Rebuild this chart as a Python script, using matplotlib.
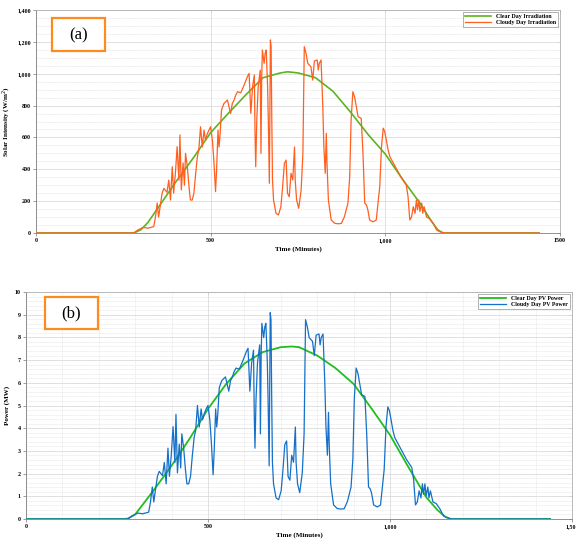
import matplotlib
matplotlib.use("Agg")
import matplotlib.pyplot as plt
from matplotlib.patches import Rectangle
from matplotlib.ticker import MultipleLocator, FixedLocator, FixedFormatter, NullFormatter

plt.rcParams['font.family'] = ['Liberation Serif', 'DejaVu Serif']

# ---------------- data ----------------
clear_t = [0, 270, 280, 300, 320, 350, 400, 450, 500, 550, 600, 650, 700, 720, 750,
           800, 850, 900, 950, 1000, 1050, 1100, 1130, 1150, 1165, 1440]
clear_irr = [0, 0, 0, 20, 65, 160, 320, 470, 630, 750, 866, 975, 1005, 1012, 1005,
             975, 890, 760, 620, 495, 335, 185, 80, 20, 0, 0]

clear_pt = [0, 270, 280, 300, 350, 400, 450, 500, 550, 600, 650, 700, 730, 750,
            800, 850, 900, 950, 1000, 1050, 1100, 1130, 1150, 1165, 1440]
clear_pow = [0, 0, 0.02, 0.2, 1.25, 2.35, 3.55, 4.85, 5.95, 6.85, 7.35, 7.57, 7.6, 7.57,
             7.2, 6.65, 5.95, 4.85, 3.7, 2.3, 0.95, 0.4, 0.12, 0, 0]

cloudy_t = [0, 280, 289, 300, 308, 320, 337, 342, 347, 351, 361, 366, 375, 380, 385,
            390, 394, 399, 404, 409, 412, 416, 421, 425, 428, 433, 438, 442, 447, 452,
            457, 462, 466, 471, 476, 481, 485, 490, 495, 500, 505, 509, 514, 517, 521,
            524, 527, 531, 538, 548, 557, 562, 567, 572, 577, 586, 596, 605, 610, 615,
            620, 625, 627, 629, 632, 636, 642, 644, 646, 648, 653, 656, 659, 663, 665,
            668, 671, 673, 675, 677, 680, 687, 694, 701, 706, 711, 716, 720, 725, 730,
            735, 740, 742, 746, 752, 759, 764, 768, 773, 778, 787, 792, 797, 805, 808,
            811, 816, 821, 824, 828, 831, 833, 837, 845, 855, 864, 874, 883, 893, 898,
            902, 907, 912, 917, 922, 931, 936, 941, 946, 950, 955, 965, 974, 984, 989,
            994, 998, 1003, 1008, 1013, 1030, 1045, 1060, 1065, 1070, 1075, 1080, 1085,
            1089, 1092, 1096, 1099, 1104, 1107, 1111, 1118, 1127, 1137, 1147, 1156, 1171,
            1440]
cloudy_irr = [0, 0, 15, 28, 35, 30, 40, 100, 188, 100, 250, 280, 255, 332, 207,
              416, 250, 373, 542, 332, 615, 270, 440, 300, 500, 420, 290, 207, 207, 250,
              373, 480, 520, 667, 540, 646, 582, 620, 646, 667, 582, 457, 260, 400, 646,
              540, 620, 772, 813, 835, 750, 813, 835, 866, 887, 880, 930, 981, 1002, 751,
              918, 992, 626, 416, 709, 918, 1023, 500, 960, 1149, 1065, 1128, 1149, 918, 709,
              312, 1212, 1170, 709, 333, 207, 124, 113, 165, 291, 437, 458, 249, 228, 375,
              333, 540, 333, 207, 155, 270, 500, 1170, 1128, 1065, 1044, 960, 1080, 1086, 1023,
              1065, 1086, 793, 542, 375, 626, 437, 207, 82, 61, 58, 60, 103, 188, 355,
              709, 887, 855, 793, 730, 720, 500, 188, 176, 145, 82, 70, 82, 291, 542,
              658, 638, 582, 520, 479, 410, 350, 301, 228, 82, 100, 165, 124,
              207, 145, 207, 135, 188, 124, 165, 100, 90, 60, 19, 8, 0,
              0]
cloudy_pow = [0, 0, 0.11, 0.21, 0.26, 0.23, 0.3, 0.75, 1.41, 0.75, 1.88, 2.1, 1.91, 2.49, 1.55,
              3.12, 1.88, 2.8, 4.07, 2.49, 4.61, 2.03, 3.3, 2.25, 3.75, 3.15, 2.18, 1.55, 1.55, 1.88,
              2.8, 3.6, 3.9, 5.0, 4.05, 4.85, 4.37, 4.65, 4.85, 5.0, 4.37, 3.43, 1.95, 3.0, 4.85,
              4.05, 4.65, 5.79, 6.1, 6.26, 5.63, 6.1, 6.26, 6.5, 6.65, 6.6, 6.98, 7.36, 7.52, 5.63,
              6.89, 7.44, 4.7, 3.12, 5.32, 6.89, 7.67, 3.75, 7.2, 8.62, 7.99, 8.46, 8.62, 6.89, 5.32,
              2.34, 9.09, 8.78, 5.32, 2.5, 1.55, 0.93, 0.85, 1.24, 2.18, 3.28, 3.44, 1.87, 1.71, 2.81,
              2.5, 4.05, 2.5, 1.55, 1.16, 2.03, 3.75, 8.78, 8.46, 7.99, 7.83, 7.2, 8.1, 8.15, 7.67,
              7.99, 8.15, 5.95, 4.07, 2.81, 4.7, 3.28, 1.55, 0.62, 0.46, 0.44, 0.45, 0.77, 1.41, 2.66,
              5.32, 6.65, 6.41, 5.95, 5.48, 5.4, 3.75, 1.41, 1.32, 1.09, 0.62, 0.53, 0.62, 2.18, 4.07,
              4.94, 4.79, 4.37, 3.9, 3.59, 3.08, 2.63, 2.26, 1.71, 0.62, 0.75, 1.24, 0.93,
              1.55, 1.09, 1.55, 1.01, 1.41, 0.93, 1.24, 0.75, 0.68, 0.45, 0.14, 0.06, 0,
              0]

xticks_a = [0, 500, 1000, 1500]
xlabels_a = ['0', '500', '1,000', '1500']
yticks_a = [0, 200, 400, 600, 800, 1000, 1200, 1400]
ylabels_a = ['0', '200', '400', '600', '800', '1,000', '1,200', '1,400']
xticks_b = [0, 500, 1000, 1500]
xlabels_b = ['0', '500', '1,000', '1,500']
yticks_b = list(range(0, 11))

# ---------------- style ----------------
ORANGE = '#FF5F1F'
GREEN_A = '#5DB41E'
GREEN_B = '#1EBE1E'
BLUE = '#1470C8'
BOX = '#FF8A1E'

fig = plt.figure(figsize=(5.76, 5.39), dpi=100)
ax1 = fig.add_axes([36/576, 1-233/539, 524/576, 223/539])
ax2 = fig.add_axes([26/576, 1-519/539, 546/576, 227/539])


def style(ax, yticks):
    for name, s in ax.spines.items():
        s.set_color('#b0b0b0')
        s.set_linewidth(0.6)
    ax.spines['left'].set_color('#808080')
    ax.spines['bottom'].set_color('#808080')
    ax.tick_params(which='major', direction='out', length=2.2, width=0.5,
                   color='#777777', pad=1.5)
    ax.tick_params(which='minor', length=0)
    ax.grid(which='major', color='#dcdcdc', linewidth=0.6)
    ax.grid(which='minor', color='#e4e4e4', linewidth=0.4, linestyle=(0, (3, 1)))
    sec = ax.secondary_yaxis('right')
    sec.set_yticks(yticks)
    sec.yaxis.set_major_formatter(NullFormatter())
    sec.tick_params(direction='in', length=2.2, width=0.5, color='#999999')
    sec.spines['right'].set_visible(False)
    secx = ax.secondary_xaxis('top')
    secx.set_xticks([0, 500, 1000, 1500])
    secx.xaxis.set_major_formatter(NullFormatter())
    secx.tick_params(direction='in', length=2.2, width=0.5, color='#999999')
    secx.spines['top'].set_visible(False)


# ---- panel (a)
ax1.plot(clear_t, clear_irr, color=GREEN_A, lw=1.2, label='Clear Day Irradiation', zorder=3)
ax1.plot(cloudy_t, cloudy_irr, color=ORANGE, lw=0.9, label='Cloudy Day Irradiation', zorder=4)
ax1.set_xlim(0, 1500)
ax1.set_ylim(0, 1400)
ax1.xaxis.set_major_locator(FixedLocator(xticks_a))
ax1.xaxis.set_major_formatter(FixedFormatter(xlabels_a))
ax1.yaxis.set_major_locator(FixedLocator(yticks_a))
ax1.yaxis.set_major_formatter(FixedFormatter(ylabels_a))
ax1.yaxis.set_minor_locator(MultipleLocator(50))
style(ax1, yticks_a)
for lab in ax1.get_xticklabels() + ax1.get_yticklabels():
    lab.set_fontsize(4.3)
    lab.set_fontweight('bold')
ax1.set_xlabel('Time (Minutes)', fontsize=5, fontweight='bold', labelpad=2)
ax1.set_ylabel('Solar Intensity (W/m$^2$)', fontsize=5, fontweight='bold')
ax1.yaxis.set_label_coords(-23/524, 0.5)
leg1 = ax1.legend(loc='upper right', prop={'weight': 'bold', 'size': 4.2},
                  frameon=True, fancybox=False, edgecolor='#777777', borderpad=0.3,
                  handlelength=4.5, labelspacing=0.1, borderaxespad=0.4)
leg1.get_frame().set_linewidth(0.5)
ax1.add_patch(Rectangle((52/576, 1-51/539), 53/576, 33/539, transform=fig.transFigure,
                        facecolor='white', edgecolor=BOX, lw=1.6, zorder=10))
fig.text(78.5/576, 1-35/539, '(a)', fontsize=12, ha='center', va='center', zorder=11)

# ---- panel (b)
ax2.plot(clear_pt, clear_pow, color=GREEN_B, lw=1.3, label='Clear Day PV Power', zorder=3)
ax2.plot(cloudy_t, cloudy_pow, color=BLUE, lw=0.9, label='Cloudy Day PV Power', zorder=4)
ax2.set_xlim(0, 1500)
ax2.set_ylim(0, 10)
ax2.xaxis.set_major_locator(FixedLocator(xticks_b))
ax2.xaxis.set_major_formatter(FixedFormatter(xlabels_b))
ax2.xaxis.set_minor_locator(MultipleLocator(100))
ax2.yaxis.set_major_locator(FixedLocator(yticks_b))
ax2.yaxis.set_minor_locator(MultipleLocator(0.2))
style(ax2, yticks_b)
for lab in ax2.get_xticklabels() + ax2.get_yticklabels():
    lab.set_fontsize(4.3)
    lab.set_fontweight('bold')
ax2.set_xlabel('Time (Minutes)', fontsize=5, fontweight='bold', labelpad=2)
ax2.set_ylabel('Power (MW)', fontsize=5, fontweight='bold')
ax2.yaxis.set_label_coords(-16/546, 0.5)
leg2 = ax2.legend(loc='upper right', prop={'weight': 'bold', 'size': 4.2},
                  frameon=True, fancybox=False, edgecolor='#777777', borderpad=0.3,
                  handlelength=4.5, labelspacing=0.1, borderaxespad=0.4)
leg2.get_frame().set_linewidth(0.5)
ax2.add_patch(Rectangle((45/576, 1-329/539), 53/576, 32/539, transform=fig.transFigure,
                        facecolor='white', edgecolor=BOX, lw=1.6, zorder=10))
fig.text(71.5/576, 1-313/539, '(b)', fontsize=12, ha='center', va='center', zorder=11)

fig.savefig('out.png', dpi=100)
